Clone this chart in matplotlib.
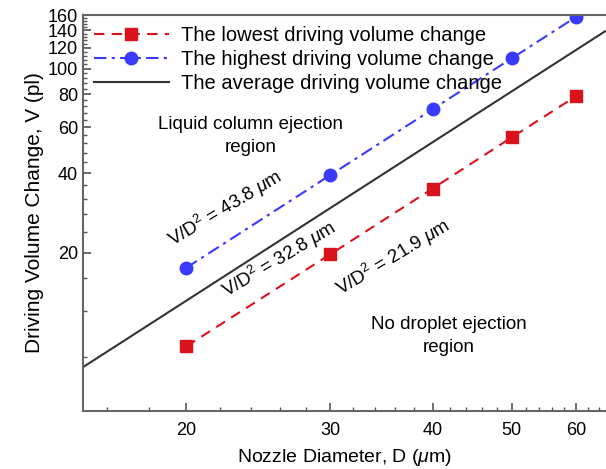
import numpy as np
import matplotlib
matplotlib.use('Agg')
import matplotlib.pyplot as plt
from matplotlib.ticker import FixedLocator, NullFormatter, FixedFormatter

plt.rcParams['font.family'] = ['Liberation Sans', 'DejaVu Sans']
plt.rcParams['mathtext.fontset'] = 'custom'
plt.rcParams['mathtext.rm'] = 'Liberation Sans'
plt.rcParams['mathtext.it'] = 'Liberation Sans:italic'

# data
diameter = [20, 30, 40, 50, 60]
lowest = [8.8, 19.7, 35.0, 54.8, 78.8]
highest = [17.5, 39.4, 70.1, 109.5, 157.7]
avg_d = [15, 65]
avg_v = [7.38, 138.6]

x_major = [20, 30, 40, 50, 60]
y_major = [20, 40, 60, 80, 100, 120, 140, 160]

fig = plt.figure(figsize=(6.06, 4.69), dpi=100)
ax = fig.add_axes([0.137, 0.124, 0.863, 0.844])

ax.plot(diameter, lowest, color='#d9121b', ls=(0, (5, 3.5)), lw=1.5,
        marker='s', ms=9, label='The lowest driving volume change')
ax.plot(diameter, highest, color='#3a3aff', ls=(0, (6, 2.5, 1.5, 2.5)), lw=1.5,
        marker='o', ms=9, label='The highest driving volume change')
ax.plot(avg_d, avg_v, color='#333333', lw=1.5,
        label='The average driving volume change')

ax.set_xscale('log')
ax.set_yscale('log')
ax.set_xlim(14.95, 65.2)
ax.set_ylim(5, 160)

ax.xaxis.set_major_locator(FixedLocator(x_major))
ax.xaxis.set_major_formatter(FixedFormatter([str(v) for v in x_major]))
ax.xaxis.set_minor_locator(FixedLocator(np.arange(16, 66, 2)))
ax.xaxis.set_minor_formatter(NullFormatter())
ax.yaxis.set_major_locator(FixedLocator(y_major))
ax.yaxis.set_major_formatter(FixedFormatter([str(v) for v in y_major]))
ax.yaxis.set_minor_locator(FixedLocator(np.arange(8, 160, 4)))
ax.yaxis.set_minor_formatter(NullFormatter())

ax.tick_params(which='both', direction='in', labelsize=13, color='#555555')
ax.tick_params(which='major', length=6, width=1.2)
ax.tick_params(which='minor', length=3, width=1)
ax.tick_params(axis='x', pad=8)

for s in ['left', 'bottom', 'top']:
    ax.spines[s].set_color('#666666')
    ax.spines[s].set_linewidth(1.5)
ax.spines['right'].set_visible(False)

ax.set_xlabel(r'Nozzle Diameter, D ($\mu$m)', fontsize=14, labelpad=6)
ax.set_ylabel('Driving Volume Change, V (pl)', fontsize=15, labelpad=3)

ax.legend(loc='upper left', bbox_to_anchor=(0.0, 1.0), frameon=False,
          fontsize=14.5, handlelength=3.7, labelspacing=0.25, handletextpad=0.6,
          borderaxespad=0.25, borderpad=0.3)

ax.text(0.32, 0.695, 'Liquid column ejection\nregion', transform=ax.transAxes,
        ha='center', va='center', fontsize=13.5, linespacing=1.45)
ax.text(0.70, 0.19, 'No droplet ejection\nregion', transform=ax.transAxes,
        ha='center', va='center', fontsize=13.5, linespacing=1.45)

ax.text(22.3, 29.5, r'V/D$^2$ = 43.8 $\mu$m', rotation=31, fontsize=13.5,
        ha='center', va='center')
ax.text(26.0, 18.8, r'V/D$^2$ = 32.8 $\mu$m', rotation=31, fontsize=13.5,
        ha='center', va='center')
ax.text(35.8, 19.1, r'V/D$^2$ = 21.9 $\mu$m', rotation=31, fontsize=13.5,
        ha='center', va='center')

fig.savefig('out.png', dpi=100)
